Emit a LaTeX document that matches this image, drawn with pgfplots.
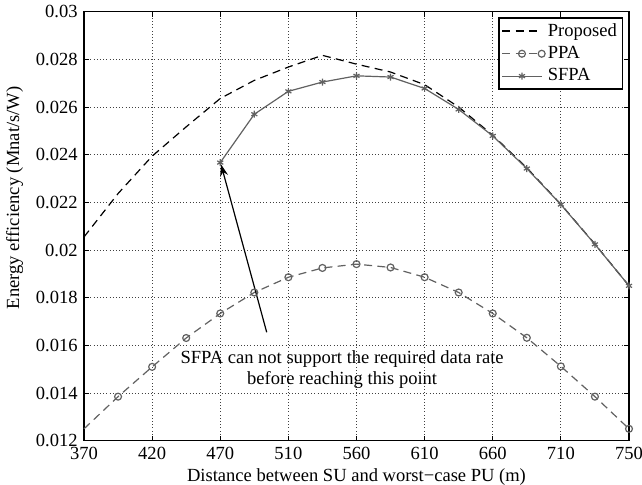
\documentclass[border=0pt]{standalone}
\usepackage{fontspec}
\setmainfont{Liberation Serif}
\usepackage{pgfplots}
\pgfplotsset{compat=1.18}
\usetikzlibrary{arrows.meta,calc}
\definecolor{ln}{rgb}{0.38,0.38,0.38}
\newcommand{\fs}{\fontsize{13.9pt}{15.8pt}\selectfont}
\begin{document}
\fs
\begin{tikzpicture}
\begin{axis}[
  name=ax,
  scale only axis,
  width=408.75pt, height=321.75pt,
  xmin=370, xmax=750, ymin=0.012, ymax=0.03,
  xtick={370,417.5,465,512.5,560,607.5,655,702.5,750},
  xticklabels={370,420,470,510,560,610,660,710,750},
  ytick={0.012,0.014,0.016,0.018,0.02,0.022,0.024,0.026,0.028,0.03},
  yticklabels={0.012,0.014,0.016,0.018,0.02,0.022,0.024,0.026,0.028,0.03},
  scaled y ticks=false,
  /pgf/number format/assume math mode=true,
  tick align=inside,
  major tick length=3.8pt,
  tick style={black, line width=0.6pt},
  axis line style={line width=0.9pt},
  grid=major,
  major grid style={dotted, black!75, line width=0.6pt},
  xlabel={Distance between SU and worst−case PU (m)},
  ylabel={Energy efficiency (Mnat/s/W)},
  xlabel style={yshift=3pt},
  ylabel style={at={(ticklabel cs:0.566)}},
  tick label style={font=\fs},
  label style={font=\fs},
  legend style={at={(1,1)}, anchor=north east, xshift=-4.7pt, yshift=-4.2pt,
    draw=black, line width=0.9pt, font=\fs,
    inner xsep=2pt, inner ysep=2pt, row sep=1.5pt, cells={anchor=west}},
  legend image code/.code={\draw[mark repeat=2,mark phase=2,#1] plot coordinates {(0cm,0cm) (0.52cm,0cm) (1.04cm,0cm)};},
  clip=false,
]
\addplot[black, line width=0.9pt, dash pattern=on 6pt off 4pt] coordinates {
(370,0.02055) (393.75,0.02237) (417.5,0.02394) (441.25,0.02517) (465,0.02636)
(488.75,0.02712) (512.5,0.02768) (536.25,0.02817) (560,0.02780) (583.75,0.02747)
(607.5,0.02694) (631.25,0.02600) (655,0.02482) (678.75,0.02345) (702.5,0.02192)
(726.25,0.02025) (750,0.0185)};
\addlegendentry{Proposed}
\addplot[ln, line width=0.9pt, dash pattern=on 6pt off 4pt, mark=o, mark size=2.6pt,
  mark options={solid, line width=0.9pt}, mark indices={2,3,4,5,6,7,8,9,10,11,12,13,14,15,16,17}] coordinates {
(370,0.0125) (393.75,0.01385) (417.5,0.0151) (441.25,0.01631) (465,0.01734)
(488.75,0.01822) (512.5,0.01886) (536.25,0.01925) (560,0.01941) (583.75,0.01927)
(607.5,0.01886) (631.25,0.01822) (655,0.01734) (678.75,0.01632) (702.5,0.01512)
(726.25,0.01385) (750,0.0125)};
\addlegendentry{PPA}
\addplot[ln, line width=0.9pt, mark=asterisk, mark size=2.6pt, mark options={solid, line width=0.9pt}] coordinates {
(465,0.02367) (488.75,0.0257) (512.5,0.02666) (536.25,0.02705) (560,0.02731)
(583.75,0.02726) (607.5,0.02678) (631.25,0.0259) (655,0.02479) (678.75,0.02342)
(702.5,0.02191) (726.25,0.02024) (750,0.0185)};
\addlegendentry{SFPA}
\draw[black, line width=0.9pt, -{Stealth[length=9pt,width=6pt]}] (axis cs:497.4,0.01655) -- (axis cs:465.5,0.0236);
\node[align=center, font=\fs] at (axis cs:550,0.0150) {SFPA can not support the required data rate\\before reaching this point};
\end{axis}
\pgfresetboundingbox
\path[use as bounding box] ($(ax.south west)+(-63pt,-33.2pt)$) rectangle ($(ax.north east)+(9.75pt,8.8pt)$);
\end{tikzpicture}
\end{document}
